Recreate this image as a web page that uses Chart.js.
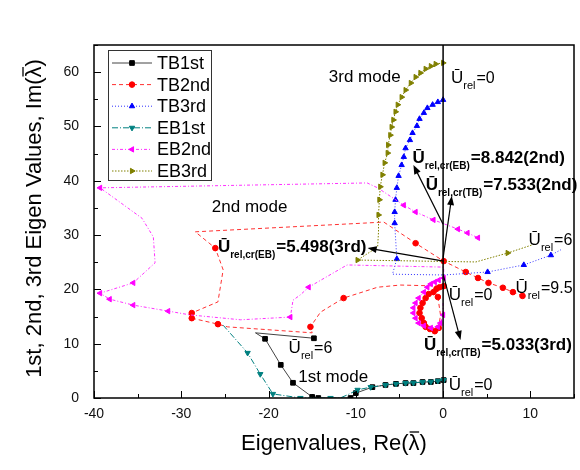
<!DOCTYPE html>
<html>
<head>
<meta charset="utf-8">
<script src="https://cdn.jsdelivr.net/npm/chart.js@4.4.1/dist/chart.umd.min.js"></script>
<style>
  html, body { margin: 0; padding: 0; background: #fff; }
</style>
</head>
<body>
<canvas id="c" width="580" height="470"></canvas>
<script>
// eigenvalue paths [Re, Im], in drawing order; *Bends = vertices drawn without a marker
const tb1Path = [[0.07,3.3],[-0.6,3.1],[-1.4,2.95],[-2.35,2.95],[-3.4,2.75],[-4.3,2.75],[-5.4,2.6],[-6.6,2.4],[-8.1,2.0],
  [-10.0,0.9],[-10.6,0],[-14.3,0],[-15.0,0.2],[-17.2,2.8],[-18.6,6.1],[-20.4,10.9],[-21.5,12.0],[-14.8,11.0]];
const tb1Bends = [16];

const tb2Path = [[-0.6,18.6],[-0.3,15.3],[-0.5,12.9],[-0.95,12.3],[-1.5,12.7],[-2.0,13.1],[-2.2,13.8],[-2.45,14.7],
  [-2.7,15.65],[-2.6,16.6],[-2.35,17.5],[-2.0,18.4],[-1.65,19.15],[-1.1,19.5],[-0.75,20.1],[-0.4,20.4],[0.07,20.6],
  [-4.9,20.8],[-7.5,20.4],[-11.4,18.4],[-14.05,15.8],[-15.2,13.1],[-15.0,12.0],[-24.7,13.1],[-25.8,13.6],[-28.8,14.7],
  [-28.8,15.65],[-25.8,17.7],[-25.2,23.6],[-26.1,27.6],[-28.4,30.6],[-9.1,32.2],[-6.8,32.4],[-3.15,28.5],[0.07,25.2],
  [2.6,23.2],[4.0,22.1],[5.2,21.2],[6.85,20.3],[8.0,19.5],[9.1,18.8]];
const tb2Bends = [1,17,18,20,22,23,27,28,30,31,32];

const tb3Path = [[0,54.9],[-0.6,54.5],[-1.2,54.0],[-1.8,53.4],[-2.2,52.5],[-2.7,51.4],[-3.0,50.1],[-3.5,48.8],[-3.8,47.5],
  [-4.3,46.0],[-4.5,44.4],[-4.75,42.9],[-5.1,40.9],[-5.3,38.7],[-5.45,36.5],[-5.55,34.25],[-5.55,32.2],[-5.3,25.6],
  [-5.8,22.8],[0.07,22.65],[5.1,23.2],[9.25,24.5],[12.35,26.3],[13.5,27.3]];
const tb3Bends = [18,19,23];

const eb1Path = [[0.07,3.3],[-0.6,3.15],[-1.4,3.0],[-2.35,2.95],[-3.4,2.8],[-4.3,2.75],[-5.4,2.6],[-6.6,2.4],[-8.3,2.0],
  [-9.8,1.5],[-11.0,0.55],[-11.8,0],[-12.9,0],[-16.35,0],[-18.0,0.4],[-19.5,0.75],[-20.95,4.4],[-22.4,8.3],[-25.2,13.4]];
const eb1Bends = [10,11,14,18];

const eb2Path = [[0,17.5],[0,15.3],[-0.3,13.8],[-0.6,13.1],[-1.4,12.9],[-2.2,13.3],[-2.8,13.8],[-3.15,14.7],[-3.4,15.65],
  [-3.4,16.6],[-3.15,17.5],[-2.8,18.4],[-2.2,19.5],[-1.8,20.4],[-1.4,21.0],[-0.95,21.35],[-0.5,21.7],[0.07,22.1],
  [0.07,24.1],[-11.0,24.5],[-15.4,20.4],[-16.35,19.0],[-17.2,18.0],[-17.5,14.9],[-23.2,14.4],[-29.0,15.3],[-31.5,16.0],
  [-35.5,17.1],[-38.2,18.2],[-39.3,19.3],[-35.5,21.2],[-33.0,24.9],[-33.2,29.65],[-34.5,33.1],[-39.3,38.7],[-8.7,39.6],
  [-7.5,38.7],[-4.5,35.5],[-3.15,34.25],[-1.1,32.8],[1.7,31.1],[2.8,30.4],[4.0,29.5]];
const eb2Bends = [0,18,19,21,22,24,25,31,32,33,35,36];

const eb3Path = [[0,61.7],[-0.85,61.5],[-1.4,61.1],[-2.0,60.6],[-2.6,59.85],[-3.15,59.1],[-3.7,58.0],[-4.3,56.7],
  [-4.75,55.4],[-5.2,54.0],[-5.45,52.7],[-5.7,51.2],[-5.9,49.9],[-6.05,48.4],[-6.3,46.6],[-6.35,45.1],[-6.7,43.3],
  [-6.95,41.1],[-7.2,38.9],[-7.3,36.5],[-7.4,33.7],[-7.4,30.6],[-7.5,27.8],[-9.8,25.4],[3.75,25.05],[7.4,26.7],[10.6,28.4]];
const eb3Bends = [21,22,24,26];

const xTicks = [-40, -30, -20, -10, 0, 10];
const yTicks = [0, 10, 20, 30, 40, 50, 60];

// annotation arrows [from, to] and labels, in data coordinates
const arrows = [[[0,32.0],[-3.4,42.9]], [[0,25.8],[1.0,37.2]], [[0.07,25.2],[-8.65,27.6]], [[0,22.8],[2.0,10.7]]];
const uLabels = [
  {at: [-3.5,43.3], sub: 'rel,cr(EB)', text: '=8.842(2nd)', bold: true},
  {at: [-2.0,38.3], sub: 'rel,cr(TB)', text: '=7.533(2nd)', bold: true},
  {at: [-25.8,26.9], sub: 'rel,cr(EB)', text: '=5.498(3rd)', bold: true},
  {at: [-2.2,8.8], sub: 'rel,cr(TB)', text: '=5.033(3rd)', bold: true},
  {at: [0.9,58.0], sub: 'rel', text: '=0'},
  {at: [9.8,28.2], sub: 'rel', text: '=6'},
  {at: [8.3,19.3], sub: 'rel', text: '=9.5'},
  {at: [0.65,18.0], sub: 'rel', text: '=0'},
  {at: [0.65,1.5], sub: 'rel', text: '=0'},
  {at: [-17.7,8.3], sub: 'rel', text: '=6'},
];
const modeLabels = [{at: [-13.1,58.2], text: '3rd mode'}, {at: [-26.5,34.25], text: '2nd mode'}, {at: [-16.6,2.95], text: '1st mode'}];

const FONT = '"Liberation Sans", Arial, sans-serif';

const series = [
  {label: 'TB1st', path: tb1Path, bends: tb1Bends, color: '#000000', line: '#444444', dash: [], style: 'rect', rot: 0, r: 3.3},
  {label: 'TB2nd', path: tb2Path, bends: tb2Bends, color: '#ff0000', line: '#ff3030', dash: [4, 3], style: 'circle', rot: 0, r: 2.8},
  {label: 'TB3rd', path: tb3Path, bends: tb3Bends, color: '#0000ff', line: '#3030ff', dash: [1, 2], style: 'triangle', rot: 0, r: 3.1},
  {label: 'EB1st', path: eb1Path, bends: eb1Bends, color: '#008080', line: '#008080', dash: [6, 2, 1, 2], style: 'triangle', rot: 180, r: 3.1},
  {label: 'EB2nd', path: eb2Path, bends: eb2Bends, color: '#ff00ff', line: '#ff30ff', dash: [3, 2, 1, 2], style: 'triangle', rot: -90, r: 3.1},
  {label: 'EB3rd', path: eb3Path, bends: eb3Bends, color: '#808000', line: '#808000', dash: [1.5, 1.5], style: 'triangle', rot: 90, r: 3.1},
];

function uLabel(ctx, px, py, lab) {
  const w = lab.bold ? 'bold ' : '';
  ctx.textAlign = 'left';
  ctx.textBaseline = 'alphabetic';
  ctx.font = w + '17px ' + FONT;
  ctx.fillText('Ū', px, py);
  let x = px + ctx.measureText('Ū').width;
  ctx.font = w + (lab.bold ? '10px ' : '11px ') + FONT;
  ctx.fillText(lab.sub, x, py + 6);
  x += ctx.measureText(lab.sub).width + 1;
  ctx.font = w + (lab.bold ? '17px ' : '16px ') + FONT;
  ctx.fillText(lab.text, x, py);
}

function arrow(ctx, x1, y1, x2, y2) {
  const ang = Math.atan2(y2 - y1, x2 - x1);
  ctx.beginPath();
  ctx.moveTo(x1, y1);
  ctx.lineTo(x2 - 6 * Math.cos(ang), y2 - 6 * Math.sin(ang));
  ctx.stroke();
  ctx.beginPath();
  ctx.moveTo(x2, y2);
  ctx.lineTo(x2 - 9 * Math.cos(ang) + 3.5 * Math.sin(ang), y2 - 9 * Math.sin(ang) - 3.5 * Math.cos(ang));
  ctx.lineTo(x2 - 9 * Math.cos(ang) - 3.5 * Math.sin(ang), y2 - 9 * Math.sin(ang) + 3.5 * Math.cos(ang));
  ctx.closePath();
  ctx.fill();
}

function titleWithBar(ctx, before, x, y) {
  // text followed by an overlined lambda and ")"
  ctx.fillText(before, x, y);
  const w1 = ctx.measureText(before).width;
  const wl = ctx.measureText('λ').width;
  ctx.fillText('λ)', x + w1, y);
  ctx.lineWidth = 1.3;
  ctx.beginPath();
  ctx.moveTo(x + w1 + 1, y - 18);
  ctx.lineTo(x + w1 + wl - 0.5, y - 18);
  ctx.stroke();
}

const overlay = {
  id: 'overlay',
  afterDatasetsDraw(chart) {
    const {ctx, chartArea: a, scales: {x, y}} = chart;
    const X = v => x.getPixelForValue(v), Y = v => y.getPixelForValue(v);
    ctx.save();
    ctx.strokeStyle = '#000';
    ctx.fillStyle = '#000';

    // zero line and frame
    ctx.lineWidth = 1.5;
    ctx.beginPath(); ctx.moveTo(X(0), a.bottom); ctx.lineTo(X(0), a.top); ctx.stroke();
    ctx.strokeRect(a.left, a.top, a.right - a.left, a.bottom - a.top);

    // inward ticks, major every 10, minor every 5
    ctx.lineWidth = 1;
    ctx.beginPath();
    for (let v = -40; v <= 15; v += 5) {
      const len = v % 10 === 0 ? 7 : 4;
      ctx.moveTo(Math.round(X(v)) + 0.5, a.bottom); ctx.lineTo(Math.round(X(v)) + 0.5, a.bottom - len);
    }
    for (let v = 0; v <= 65; v += 5) {
      const len = v % 10 === 0 ? 7 : 4;
      ctx.moveTo(a.left, Math.round(Y(v)) + 0.5); ctx.lineTo(a.left + len, Math.round(Y(v)) + 0.5);
    }
    ctx.stroke();

    // arrows
    ctx.lineWidth = 1.2;
    arrows.forEach(([p, q]) => arrow(ctx, X(p[0]), Y(p[1]), X(q[0]), Y(q[1])));

    // labels
    uLabels.forEach(l => uLabel(ctx, X(l.at[0]), Y(l.at[1]), l));
    ctx.font = '17px ' + FONT;
    modeLabels.forEach(l => ctx.fillText(l.text, X(l.at[0]), Y(l.at[1])));

    // legend
    const bx = a.left + 14, by = a.top + 5;
    ctx.fillStyle = '#fff';
    ctx.fillRect(bx, by, 103, 130);
    ctx.strokeStyle = '#333';
    ctx.lineWidth = 1;
    ctx.strokeRect(bx + 0.5, by + 0.5, 103, 130);
    series.forEach((s, i) => {
      const ly = by + 13 + i * 21.6;
      ctx.strokeStyle = s.line;
      ctx.setLineDash(s.dash);
      ctx.beginPath(); ctx.moveTo(bx + 4, ly); ctx.lineTo(bx + 44, ly); ctx.stroke();
      ctx.setLineDash([]);
      ctx.fillStyle = s.color;
      ctx.strokeStyle = s.color;
      Chart.helpers.drawPoint(ctx, {pointStyle: s.style, rotation: s.rot, radius: s.r, borderWidth: 1}, bx + 24, ly);
      ctx.fillStyle = '#000';
      ctx.font = '18px ' + FONT;
      ctx.textBaseline = 'middle';
      ctx.fillText(s.label, bx + 49, ly + 1);
      ctx.textBaseline = 'alphabetic';
    });

    // axis titles
    ctx.fillStyle = '#000';
    ctx.strokeStyle = '#000';
    ctx.font = '22px ' + FONT;
    const xt = 'Eigenvalues, Re(';
    const xw = ctx.measureText(xt + 'λ)').width;
    titleWithBar(ctx, xt, (a.left + a.right) / 2 - xw / 2, 450);
    ctx.translate(41, (a.top + a.bottom) / 2 - 3);
    ctx.rotate(-Math.PI / 2);
    const yt = '1st, 2nd, 3rd Eigen Values, Im(';
    const yw = ctx.measureText(yt + 'λ)').width;
    titleWithBar(ctx, yt, -yw / 2, 0);
    ctx.restore();
  }
};

new Chart(document.getElementById('c'), {
  type: 'scatter',
  data: {
    datasets: series.map((s, i) => ({
      label: s.label,
      data: s.path.map(([px, py]) => ({x: px, y: py})),
      order: -i, // later series drawn on top
      showLine: true,
      borderColor: s.line,
      borderWidth: 1,
      borderDash: s.dash,
      tension: 0,
      pointStyle: s.style,
      pointRotation: s.rot,
      pointRadius: c => s.bends.includes(c.dataIndex) ? 0 : s.r,
      pointBackgroundColor: s.color,
      pointBorderColor: s.color,
      pointBorderWidth: 1,
    }))
  },
  options: {
    responsive: false,
    animation: false,
    layout: {padding: {top: 45, right: 6, left: 0, bottom: 0}},
    plugins: {legend: {display: false}, tooltip: {enabled: false}},
    scales: {
      x: {
        type: 'linear', min: -40, max: 15,
        grid: {display: false, drawTicks: false},
        border: {display: false},
        afterBuildTicks: s => { s.ticks = xTicks.map(v => ({value: v})); },
        afterFit: s => { s.height = 72; },
        ticks: {padding: 8, color: '#111', font: {family: FONT, size: 14}},
      },
      y: {
        type: 'linear', min: 0, max: 65,
        grid: {display: false, drawTicks: false},
        border: {display: false},
        afterBuildTicks: s => { s.ticks = yTicks.map(v => ({value: v})); },
        afterFit: s => { s.width = 94; },
        ticks: {padding: 15, color: '#111', font: {family: FONT, size: 14}},
      }
    }
  },
  plugins: [overlay]
});
</script>
</body>
</html>
